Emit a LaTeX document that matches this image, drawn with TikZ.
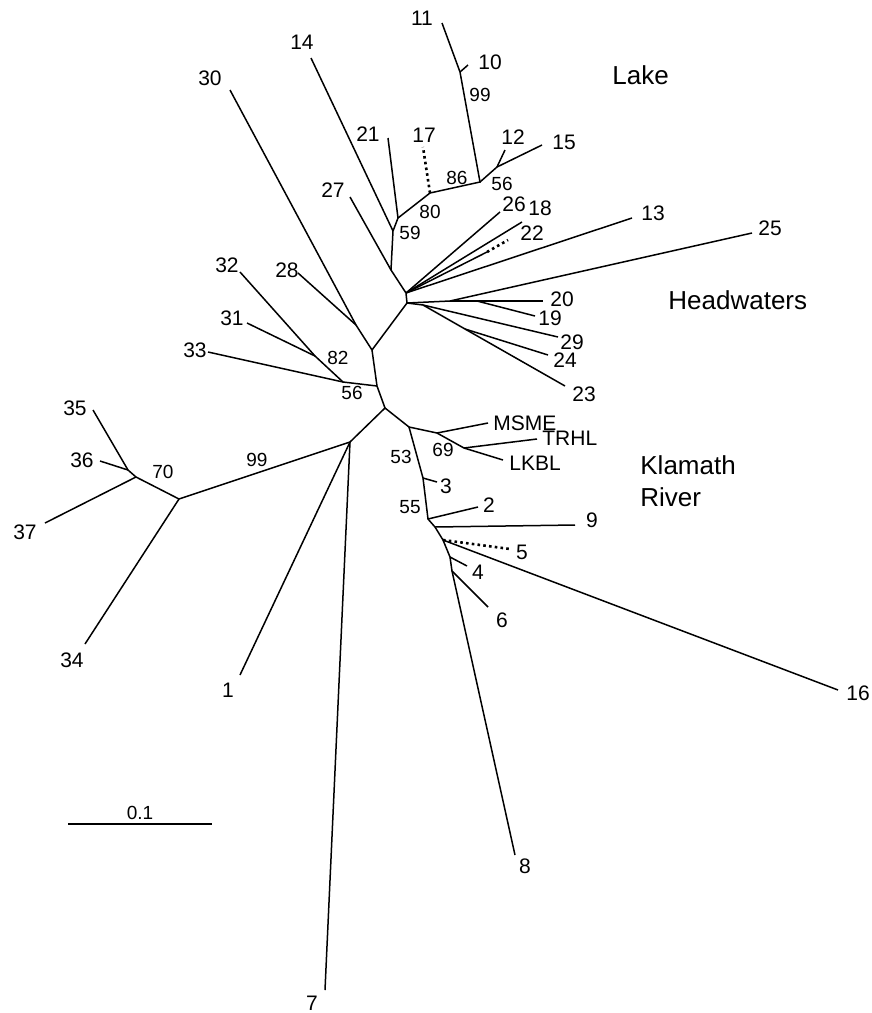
\documentclass[tikz,border=0pt]{standalone}
\usepackage{fontspec}
\setmainfont{Liberation Sans}
\usetikzlibrary{positioning}

\begin{document}
\begin{tikzpicture}[
  x=0.5pt, y=-0.5pt,
  branch/.style={line width=0.75pt},
  weak/.style={line width=1.3pt, dash pattern=on 1.3pt off 1.6pt},
  tip/.style={font=\fontsize{10.5}{12}\selectfont, inner sep=1pt},
  boot/.style={font=\fontsize{9.5}{11}\selectfont, inner sep=1pt},
  region/.style={font=\fontsize{13}{16}\selectfont, align=left, inner sep=0pt, anchor=west}
]
\useasboundingbox (0,0) rectangle (872,1013);

% inner nodes
\coordinate (A) at (350,442);
\coordinate (B) at (385,408);
\coordinate (C) at (377,386);
\coordinate (D) at (372,350);
\coordinate (E) at (356,325);
\coordinate (G) at (407,303);
\coordinate (F) at (406,293);
\coordinate (H) at (391,270);
\coordinate (N) at (393,231);
\coordinate (M) at (398,218);
\coordinate (O) at (430,193);
\coordinate (P) at (480,182);
\coordinate (Q) at (460,72);
\coordinate (R) at (497,167);
\coordinate (J1) at (450,301);
\coordinate (J2) at (477,301);
\coordinate (K) at (423,305);
\coordinate (L) at (465,329);
\coordinate (DD) at (343,382);
\coordinate (EE) at (315,356);
\coordinate (T) at (409,427);
\coordinate (U) at (437,433);
\coordinate (V) at (464,448);
\coordinate (T3) at (423,478);
\coordinate (W) at (428,519);
\coordinate (X) at (435,527);
\coordinate (Y) at (443,540);
\coordinate (Z) at (450,557);
\coordinate (ZZ) at (452,571);
\coordinate (AA) at (179,499);
\coordinate (BB) at (136,477);
\coordinate (CC) at (128,470);
\coordinate (c22) at (487,252);

% branch ends
\coordinate (l1) at (240,675);
\coordinate (l2) at (478,507);
\coordinate (l3) at (437,482);
\coordinate (l4) at (467,566);
\coordinate (l5) at (510,549);
\coordinate (l6) at (488,607);
\coordinate (l7) at (325,990);
\coordinate (l8) at (515,855);
\coordinate (l9) at (575,525);
\coordinate (l10) at (468,65);
\coordinate (l11) at (442,23);
\coordinate (l12) at (505,150);
\coordinate (l13) at (632,218);
\coordinate (l14) at (311,58);
\coordinate (l15) at (542,145);
\coordinate (l16) at (838,690);
\coordinate (l17) at (423,147);
\coordinate (l18) at (522,222);
\coordinate (l19) at (535,316);
\coordinate (l20) at (543,301);
\coordinate (l21) at (388,138);
\coordinate (l22) at (508,240);
\coordinate (l23) at (565,386);
\coordinate (l24) at (548,355);
\coordinate (l25) at (752,233);
\coordinate (l26) at (500,212);
\coordinate (l27) at (350,197);
\coordinate (l28) at (298,273);
\coordinate (l29) at (558,337);
\coordinate (l30) at (230,90);
\coordinate (l31) at (247,323);
\coordinate (l32) at (240,272);
\coordinate (l33) at (208,352);
\coordinate (l34) at (85,644);
\coordinate (l35) at (93,410);
\coordinate (l36) at (100,461);
\coordinate (l37) at (45,523);
\coordinate (lMSME) at (488,423);
\coordinate (lTRHL) at (537,439);
\coordinate (lLKBL) at (503,460);

% backbone
\draw[branch] (A) -- (B) -- (C) -- (D) -- (G) -- (F) -- (H) -- (N) -- (M) -- (O) -- (P) -- (Q) -- (l11);
\draw[branch] (D) -- (E) -- (l30);
\draw[branch] (E) -- (l28);
\draw[branch] (H) -- (l27);
\draw[branch] (N) -- (l14);
\draw[branch] (M) -- (l21);
\draw[weak] (O) -- (l17);
\draw[branch] (Q) -- (l10);
\draw[branch] (P) -- (R) -- (l15);
\draw[branch] (R) -- (l12);

% headwaters
\draw[branch] (F) -- (l26);
\draw[branch] (F) -- (l18);
\draw[branch] (F) -- (c22);
\draw[weak] (c22) -- (l22);
\draw[branch] (F) -- (l13);
\draw[branch] (G) -- (J1) -- (l25);
\draw[branch] (J1) -- (J2) -- (l20);
\draw[branch] (J2) -- (l19);
\draw[branch] (G) -- (K) -- (l29);
\draw[branch] (K) -- (L) -- (l23);
\draw[branch] (L) -- (l24);
\draw[branch] (C) -- (DD) -- (l33);
\draw[branch] (DD) -- (EE) -- (l32);
\draw[branch] (EE) -- (l31);

% klamath river
\draw[branch] (B) -- (T) -- (U) -- (lMSME);
\draw[branch] (U) -- (V) -- (lTRHL);
\draw[branch] (V) -- (lLKBL);
\draw[branch] (T) -- (T3) -- (W) -- (X) -- (Y) -- (Z) -- (ZZ) -- (l8);
\draw[branch] (T3) -- (l3);
\draw[branch] (W) -- (l2);
\draw[branch] (X) -- (l9);
\draw[weak] (Y) -- (l5);
\draw[branch] (Y) -- (l16);
\draw[branch] (Z) -- (l4);
\draw[branch] (ZZ) -- (l6);
\draw[branch] (A) -- (l1);
\draw[branch] (A) -- (l7);
\draw[branch] (A) -- (AA) -- (l34);
\draw[branch] (AA) -- (BB) -- (l37);
\draw[branch] (BB) -- (CC) -- (l35);
\draw[branch] (CC) -- (l36);

% tip labels
\node[tip] (n1) at (228,690) {1};
\node[tip] (n2) at (489,505) {2};
\node[tip] (n3) at (446,486) {3};
\node[tip] (n4) at (478,572) {4};
\node[tip] (n5) at (522,552) {5};
\node[tip] (n6) at (502,620) {6};
\node[tip] (n7) at (312,1003) {7};
\node[tip] (n8) at (525,866) {8};
\node[tip] (n9) at (592,520) {9};
\node[tip] (n10) at (490,62) {10};
\node[tip] (n11) at (422,18) {11};
\node[tip] (n12) at (513,137) {12};
\node[tip] (n13) at (653,213) {13};
\node[tip] (n14) at (302,42) {14};
\node[tip] (n15) at (564,142) {15};
\node[tip] (n16) at (858,693) {16};
\node[tip] (n17) at (424,135) {17};
\node[tip] (n18) at (540,208) {18};
\node[tip] (n19) at (550,318) {19};
\node[tip] (n20) at (562,299) {20};
\node[tip] (n21) at (368,134) {21};
\node[tip] (n22) at (532,233) {22};
\node[tip] (n23) at (584,394) {23};
\node[tip] (n24) at (565,360) {24};
\node[tip] (n25) at (770,228) {25};
\node[tip] (n26) at (514,204) {26};
\node[tip] (n27) at (333,190) {27};
\node[tip] (n28) at (287,270) {28};
\node[tip] (n29) at (572,342) {29};
\node[tip] (n30) at (210,78) {30};
\node[tip] (n31) at (232,318) {31};
\node[tip] (n32) at (227,265) {32};
\node[tip] (n33) at (195,350) {33};
\node[tip] (n34) at (72,660) {34};
\node[tip] (n35) at (75,408) {35};
\node[tip] (n36) at (82,460) {36};
\node[tip] (n37) at (25,532) {37};
\node[tip, anchor=west] (nMSME) at (491,423) {MSME};
\node[tip, anchor=west] (nTRHL) at (540,438) {TRHL};
\node[tip, anchor=west] (nLKBL) at (507,463) {LKBL};

% bootstrap values
\node[boot] (b99a) at (480,95) {99};
\node[boot] (b86) at (457,178) {86};
\node[boot] (b56a) at (502,184) {56};
\node[boot] (b80) at (430,212) {80};
\node[boot] (b59) at (410,233) {59};
\node[boot] (b82) at (338,358) {82};
\node[boot] (b56b) at (352,393) {56};
\node[boot] (b99b) at (257,460) {99};
\node[boot] (b70) at (163,472) {70};
\node[boot] (b53) at (401,457) {53};
\node[boot] (b69) at (443,450) {69};
\node[boot] (b55) at (410,507) {55};

% regions
\node[region] (lake) at (612,75) {Lake};
\node[region] (head) at (668,300) {Headwaters};
\node[region] (river) at (640,481) {Klamath\\River};

% scale bar
\coordinate (sb1) at (68,824);
\coordinate (sb2) at (212,824);
\draw[branch] (sb1) -- (sb2);
\node[boot] (sbl) at (140,813) {0.1};
\end{tikzpicture}
\end{document}
